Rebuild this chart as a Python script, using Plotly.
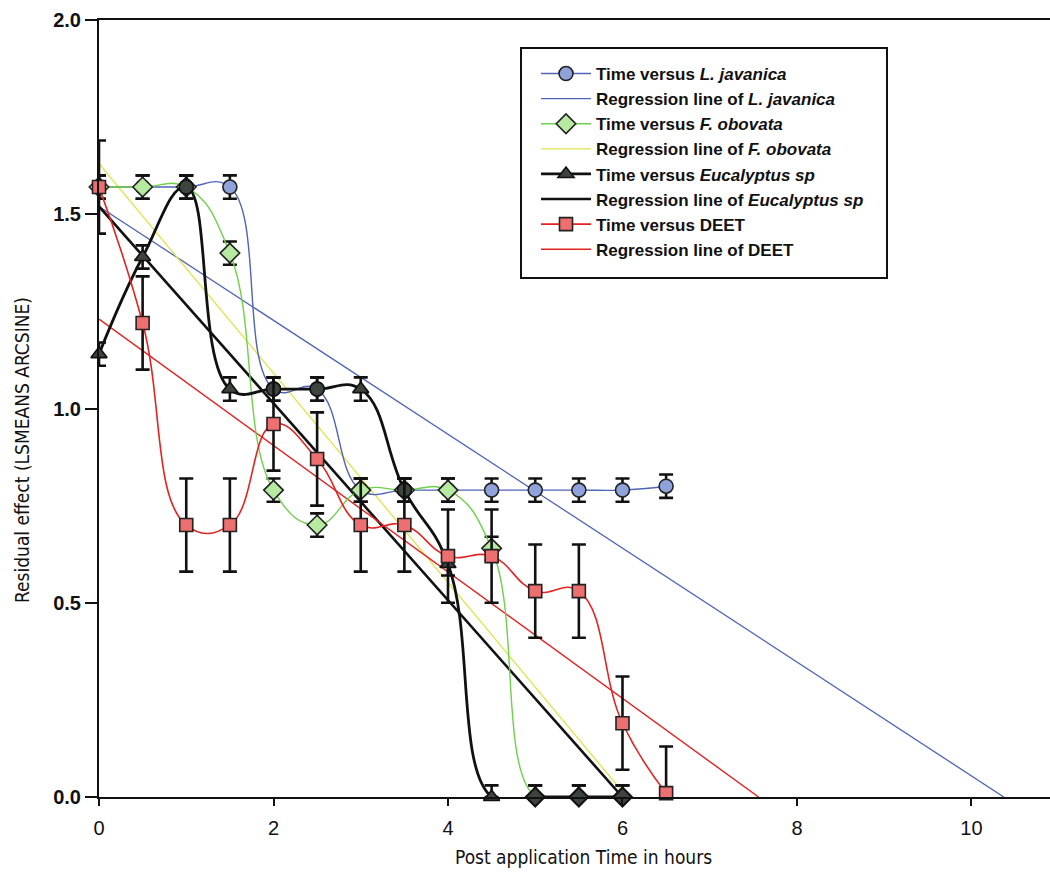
import plotly.graph_objects as go

# Sampling times (hours after application)
time_long = [0, 0.5, 1, 1.5, 2, 2.5, 3, 3.5, 4, 4.5, 5, 5.5, 6, 6.5]
time_short = [0, 0.5, 1, 1.5, 2, 2.5, 3, 3.5, 4, 4.5, 5, 5.5, 6]

# LSMEANS (arcsine-transformed residual effect) per repellent
javanica = [1.57, 1.57, 1.57, 1.57, 1.05, 1.05, 0.79, 0.79, 0.79, 0.79, 0.79, 0.79, 0.79, 0.80]
obovata = [1.57, 1.57, 1.57, 1.40, 0.79, 0.70, 0.79, 0.79, 0.79, 0.64, 0.00, 0.00, 0.00]
eucalyptus = [1.14, 1.39, 1.57, 1.05, 1.05, 1.05, 1.05, 0.79, 0.60, 0.00, 0.00, 0.00, 0.00]
deet = [1.57, 1.22, 0.70, 0.70, 0.96, 0.87, 0.70, 0.70, 0.62, 0.62, 0.53, 0.53, 0.19, 0.01]

# Standard errors
javanica_se = [0.03] * 14
obovata_se = [0.03] * 13
eucalyptus_se = [0.03] * 13
deet_se = [0.12] * 14

# Regression lines: intercept at t=0 and time where the fit reaches zero
reg_javanica = (1.52, 10.37)
reg_obovata = (1.63, 6.05)
reg_eucalyptus = (1.52, 6.0)
reg_deet = (1.23, 7.56)

# Marker shapes used for the Eucalyptus points where they sit on other series
euc_symbols = ["triangle-up", "triangle-up", "circle", "triangle-up", "circle", "circle",
               "triangle-up", "circle", "triangle-up", "triangle-up", "diamond", "diamond", "diamond"]

NARROW = "Liberation Sans Narrow, Arial Narrow, DejaVu Sans Condensed, Liberation Sans, Arial, sans-serif"
BASE = "Liberation Sans, Arial, sans-serif"

L, R, T, B = 99, 0, 20, 80
W, H = 1050, 877
SMOOTH = 1.25


def err(values, se):
    # error bars are not drawn below the x axis
    return dict(type="data", array=se, arrayminus=[min(s, v) for v, s in zip(values, se)],
                color="#111111", thickness=2.6, width=7, visible=True)


def reg_line(params, name, color, width, rank):
    b0, xz = params
    return go.Scatter(x=[0, xz], y=[b0, 0], mode="lines", name=name,
                      line=dict(color=color, width=width), legendrank=rank,
                      hoverinfo="skip")


fig = go.Figure()

# regression lines (behind the data)
fig.add_trace(reg_line(reg_javanica, "Regression line of <i>L. javanica</i>", "#4f63b8", 1.3, 2))
fig.add_trace(reg_line(reg_obovata, "Regression line of <i>F. obovata</i>", "#e2e24a", 1.3, 4))
fig.add_trace(reg_line(reg_eucalyptus, "Regression line of <i>Eucalyptus sp</i>", "#111111", 2.6, 6))
fig.add_trace(reg_line(reg_deet, "Regression line of DEET", "#e32222", 1.4, 8))

# observed means with smooth connecting curves
fig.add_trace(go.Scatter(
    x=time_long, y=javanica, mode="lines+markers", name="Time versus <i>L. javanica</i>",
    line=dict(color="#4f63b8", width=1.4, shape="spline", smoothing=SMOOTH),
    marker=dict(symbol="circle", size=14, color="#8fa2da", line=dict(color="#222222", width=1.6)),
    error_y=err(javanica, javanica_se), cliponaxis=False, legendrank=1))
fig.add_trace(go.Scatter(
    x=time_short, y=obovata, mode="lines+markers", name="Time versus <i>F. obovata</i>",
    line=dict(color="#6fd04a", width=1.4, shape="spline", smoothing=SMOOTH),
    marker=dict(symbol="diamond", size=15, color="#b6eaa0", line=dict(color="#222222", width=1.6)),
    error_y=err(obovata, obovata_se), cliponaxis=False, legendrank=3))
fig.add_trace(go.Scatter(
    x=time_short, y=eucalyptus, mode="lines+markers", name="Time versus <i>Eucalyptus sp</i>",
    line=dict(color="#111111", width=2.8, shape="spline", smoothing=SMOOTH),
    marker=dict(symbol=euc_symbols, size=14, color="#3d433d", line=dict(color="#111111", width=1.6)),
    error_y=err(eucalyptus, eucalyptus_se), cliponaxis=False, legendrank=5))
fig.add_trace(go.Scatter(
    x=time_long, y=deet, mode="lines+markers", name="Time versus DEET",
    line=dict(color="#e32222", width=1.6, shape="spline", smoothing=SMOOTH),
    marker=dict(symbol="square", size=13, color="#ee6f6f", line=dict(color="#222222", width=1.6)),
    error_y=err(deet, deet_se), cliponaxis=False, legendrank=7))


def px_to_paper(px, py):
    return (px - L) / (W - L - R), (H - B - py) / (H - T - B)


xt_x, xt_y = px_to_paper(583, 857)
yt_x, yt_y = px_to_paper(22, 450)
lg_x, lg_y = px_to_paper(536, 56)
box_x0, box_y1 = px_to_paper(521, 48)
box_x1, box_y0 = px_to_paper(887, 278)

fig.update_layout(
    width=W, height=H, autosize=False,
    margin=dict(l=L, r=R, t=T, b=B),
    paper_bgcolor="white", plot_bgcolor="white",
    showlegend=True,
    legend=dict(
        x=lg_x, y=lg_y, xanchor="left", yanchor="top",
        bgcolor="rgba(0,0,0,0)", borderwidth=0,
        font=dict(family=BASE, size=17, color="#111111", weight="bold"),
        traceorder="normal", itemwidth=50,
    ),
    # frame around the legend
    shapes=[dict(type="rect", xref="paper", yref="paper",
                 x0=box_x0, x1=box_x1, y0=box_y0, y1=box_y1,
                 line=dict(color="#111111", width=2), fillcolor="white", layer="below")],
    xaxis=dict(
        range=[0, 10.9], tickvals=[0, 2, 4, 6, 8, 10],
        showline=True, linecolor="#111111", linewidth=2, mirror=True,
        ticks="outside", ticklen=7, tickwidth=2, tickcolor="#111111",
        showgrid=False, zeroline=False, ticklabelstandoff=5,
        tickfont=dict(family=BASE, size=20, color="#111111"),
    ),
    yaxis=dict(
        range=[0, 2.0], tickvals=[0, 0.5, 1.0, 1.5, 2.0], tickformat=".1f",
        showline=True, linecolor="#111111", linewidth=2,
        ticks="outside", ticklen=12, tickwidth=2, tickcolor="#111111",
        showgrid=False, zeroline=False,
        tickfont=dict(family=BASE, size=20, color="#111111", weight="bold"),
    ),
    annotations=[
        dict(text="Post application Time in hours", x=xt_x, y=xt_y, xref="paper", yref="paper",
             xanchor="center", yanchor="middle", showarrow=False,
             font=dict(family=NARROW, size=19, color="#111111")),
        dict(text="Residual effect (LSMEANS ARCSINE)", x=yt_x, y=yt_y, xref="paper", yref="paper",
             xanchor="center", yanchor="middle", textangle=-90, showarrow=False,
             font=dict(family=NARROW, size=19, color="#111111")),
    ],
)

fig.write_html("out.html")
